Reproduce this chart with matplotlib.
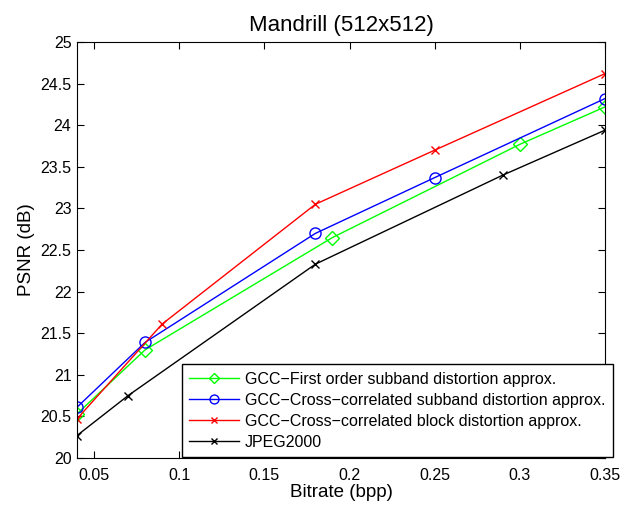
import matplotlib
matplotlib.use("Agg")
import matplotlib.pyplot as plt

plt.rcParams['font.family'] = ['Liberation Sans', 'DejaVu Sans']

# bitrate (bpp) / PSNR (dB) per method
x_first = [0.04, 0.08, 0.19, 0.30, 0.35]
y_first = [20.53, 21.30, 22.65, 23.77, 24.22]

x_cross_sub = [0.04, 0.08, 0.18, 0.25, 0.35]
y_cross_sub = [20.61, 21.39, 22.70, 23.37, 24.32]

x_cross_blk = [0.04, 0.09, 0.18, 0.25, 0.35]
y_cross_blk = [20.47, 21.61, 23.05, 23.70, 24.62]

x_jpeg = [0.04, 0.07, 0.18, 0.29, 0.35]
y_jpeg = [20.27, 20.75, 22.33, 23.40, 23.94]

labels = ["GCC\u2212First order subband distortion approx.",
          "GCC\u2212Cross\u2212correlated subband distortion approx.",
          "GCC\u2212Cross\u2212correlated block distortion approx.",
          "JPEG2000"]

xticks = [0.05, 0.1, 0.15, 0.2, 0.25, 0.3, 0.35]
xticklabels = ["0.05", "0.1", "0.15", "0.2", "0.25", "0.3", "0.35"]
yticks = [20, 20.5, 21, 21.5, 22, 22.5, 23, 23.5, 24, 24.5, 25]
yticklabels = ["20", "20.5", "21", "21.5", "22", "22.5", "23", "23.5", "24", "24.5", "25"]

fig = plt.figure(figsize=(6.34, 5.05), dpi=100)
ax = fig.add_axes([77/634, 1 - 458/505, 528/634, 416/505])

ax.plot(x_first, y_first, color='#00ff00', lw=1, marker='D', ms=7,
        mfc='none', mec='#00ff00', label=labels[0])
ax.plot(x_cross_sub, y_cross_sub, color='#0000ff', lw=1, marker='o', ms=8,
        mfc='none', mec='#0000ff', label=labels[1])
ax.plot(x_cross_blk, y_cross_blk, color='#ff0000', lw=1, marker='x', ms=6,
        label=labels[2])
ax.plot(x_jpeg, y_jpeg, color='black', lw=1, marker='x', ms=6,
        label=labels[3])

ax.set_xlim(0.04, 0.35)
ax.set_ylim(20, 25)
ax.set_xticks(xticks)
ax.set_xticklabels(xticklabels)
ax.set_yticks(yticks)
ax.set_yticklabels(yticklabels)
ax.tick_params(direction='in', top=True, right=True, labelsize=11.5, length=5)
ax.tick_params(axis='x', pad=7)
ax.tick_params(axis='y', pad=4)
for s in ax.spines.values():
    s.set_linewidth(0.8)

ax.set_xlabel("Bitrate (bpp)", fontsize=13.5, labelpad=1)
ax.set_ylabel("PSNR (dB)", fontsize=13.5, labelpad=4)
ax.set_title("Mandrill (512x512)", fontsize=16, pad=8)

leg = fig.legend(loc='lower left', bbox_to_anchor=(182/634, 1 - 457/505, 431/634, 97/505),
                 mode='expand', fontsize=11.5, fancybox=False, framealpha=1,
                 edgecolor='black', handlelength=3.1, handletextpad=0.4,
                 borderaxespad=0, markerscale=0.8, numpoints=1,
                 labelspacing=0.38, borderpad=0.45)
leg.get_frame().set_linewidth(1.0)

fig.savefig("out.png", dpi=100)
